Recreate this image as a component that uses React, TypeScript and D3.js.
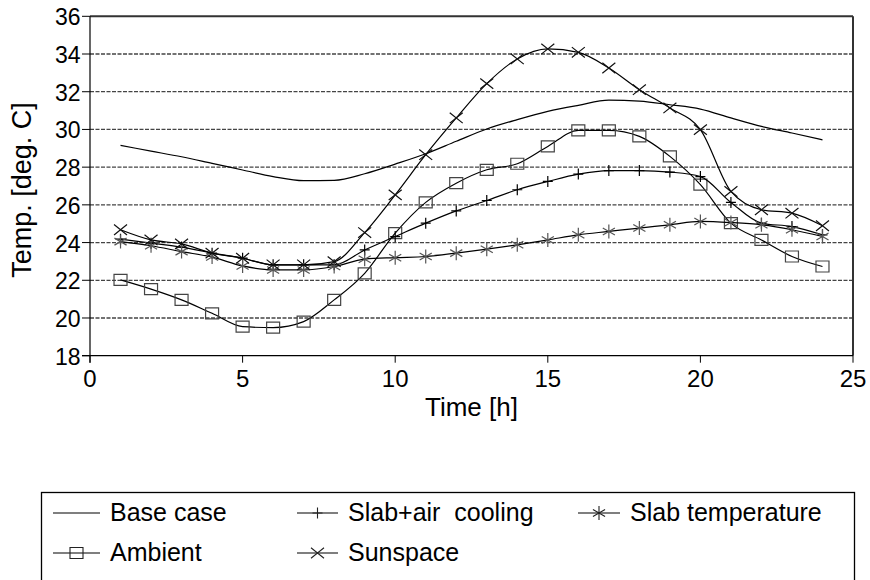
import React from 'react';
import * as d3 from 'd3';

const hours = [1, 2, 3, 4, 5, 6, 7, 8, 9, 10, 11, 12, 13, 14, 15, 16, 17, 18, 19, 20, 21, 22, 23, 24];
const baseCase = [29.15, 28.85, 28.55, 28.2, 27.85, 27.5, 27.28, 27.3, 27.65, 28.16, 28.71, 29.37, 30.02, 30.52, 30.96, 31.28, 31.55, 31.5, 31.31, 31.08, 30.61, 30.16, 29.81, 29.45];
const ambient = [22.02, 21.53, 20.96, 20.25, 19.54, 19.49, 19.81, 20.96, 22.37, 24.5, 26.13, 27.15, 27.86, 28.18, 29.1, 29.95, 29.95, 29.63, 28.57, 27.07, 25.03, 24.14, 23.26, 22.73];
const slabAir = [24.18, 23.97, 23.76, 23.44, 23.17, 22.82, 22.82, 22.82, 23.61, 24.32, 25.03, 25.68, 26.23, 26.8, 27.24, 27.63, 27.82, 27.82, 27.74, 27.5, 26.13, 25.03, 24.85, 24.41];
const slabTemp = [24.05, 23.83, 23.52, 23.23, 22.76, 22.55, 22.55, 22.73, 23.12, 23.2, 23.26, 23.44, 23.65, 23.88, 24.14, 24.41, 24.59, 24.77, 24.94, 25.12, 25.06, 24.94, 24.68, 24.32];
const sunspace = [24.68, 24.14, 23.93, 23.44, 23.17, 22.82, 22.82, 22.99, 24.53, 26.53, 28.66, 30.61, 32.43, 33.74, 34.27, 34.09, 33.26, 32.11, 31.14, 29.99, 26.71, 25.74, 25.56, 24.89];

const xTicks = [0, 5, 10, 15, 20, 25];
const yTicks = [18, 20, 22, 24, 26, 28, 30, 32, 34, 36];
const gridTicks = [20, 22, 24, 26, 28, 30, 32, 34];

const seriesNames = ['Base case', 'Slab+air  cooling', 'Slab temperature', 'Ambient', 'Sunspace'];

const W = 870;
const H = 580;
const PL = 90, PR = 853, PT = 16.3, PB = 355.7;

const FONT = '"Liberation Sans", Arial, Helvetica, sans-serif';

type MarkerKind = 'none' | 'square' | 'plus' | 'asterisk' | 'x';

function markerPath(kind: MarkerKind, cx: number, cy: number): string {
  const p = d3.path();
  if (kind === 'square') {
    p.rect(cx - 6.5, cy - 5.5, 13, 11);
  } else if (kind === 'plus') {
    p.moveTo(cx, cy - 5.5); p.lineTo(cx, cy + 5.5);
    p.moveTo(cx - 5, cy); p.lineTo(cx + 5, cy);
  } else if (kind === 'x') {
    const r = 6.5;
    p.moveTo(cx - r, cy - r * 0.8); p.lineTo(cx + r, cy + r * 0.8);
    p.moveTo(cx - r, cy + r * 0.8); p.lineTo(cx + r, cy - r * 0.8);
  } else if (kind === 'asterisk') {
    const r = 7;
    p.moveTo(cx, cy - r); p.lineTo(cx, cy + r);
    const dx = r * Math.cos(Math.PI / 6), dy = r * Math.sin(Math.PI / 6);
    p.moveTo(cx - dx, cy - dy); p.lineTo(cx + dx, cy + dy);
    p.moveTo(cx - dx, cy + dy); p.lineTo(cx + dx, cy - dy);
  }
  return p.toString();
}

export default function App() {
  const x = d3.scaleLinear().domain([0, 25]).range([PL, PR]);
  const y = d3.scaleLinear().domain([18, 36]).range([PB, PT]);

  const line = d3.line<number>()
    .x((_, i) => x(hours[i]))
    .y((d) => y(d))
    .curve(d3.curveMonotoneX);

  const series: { name: string; values: number[]; marker: MarkerKind; mcolor: string }[] = [
    { name: seriesNames[0], values: baseCase, marker: 'none', mcolor: '#000' },
    { name: seriesNames[3], values: ambient, marker: 'square', mcolor: '#444' },
    { name: seriesNames[1], values: slabAir, marker: 'plus', mcolor: '#000' },
    { name: seriesNames[2], values: slabTemp, marker: 'asterisk', mcolor: '#555' },
    { name: seriesNames[4], values: sunspace, marker: 'x', mcolor: '#111' },
  ];

  const legendItems: { name: string; marker: MarkerKind; lx: number; ly: number; len: number }[] = [
    { name: seriesNames[0], marker: 'none', lx: 53, ly: 513, len: 47 },
    { name: seriesNames[1], marker: 'plus', lx: 297, ly: 513, len: 41 },
    { name: seriesNames[2], marker: 'asterisk', lx: 578, ly: 513, len: 42 },
    { name: seriesNames[3], marker: 'square', lx: 53, ly: 553, len: 47 },
    { name: seriesNames[4], marker: 'x', lx: 297, ly: 553, len: 41 },
  ];

  return (
    <svg width={W} height={H} style={{ position: 'absolute', left: 0, top: 0, background: '#fff' }} fontFamily={FONT}>
      <rect x={0} y={0} width={W} height={H} fill="#fff" />
      {/* grid */}
      {gridTicks.map((t) => (
        <line key={'g' + t} x1={PL} x2={PR} y1={y(t)} y2={y(t)} stroke="#444" strokeWidth={1.3} strokeDasharray="4 1.5" />
      ))}
      {/* frame */}
      <line x1={PL} x2={PR} y1={PT} y2={PT} stroke="#333" strokeWidth={2} />
      <line x1={PR} x2={PR} y1={PT} y2={PB} stroke="#333" strokeWidth={2} />
      <line x1={PL} x2={PL} y1={PT} y2={PB + 7} stroke="#000" strokeWidth={1.2} />
      <line x1={PL - 8} x2={PR} y1={PB} y2={PB} stroke="#000" strokeWidth={1.2} />
      {/* y ticks */}
      {yTicks.map((t) => (
        <g key={'y' + t}>
          <line x1={PL - 8} x2={PL} y1={y(t)} y2={y(t)} stroke="#000" strokeWidth={1} />
          <text x={80.5} y={y(t) + 9} textAnchor="end" fontSize={23} fill="#000">{t}</text>
        </g>
      ))}
      {/* x ticks */}
      {xTicks.map((t) => (
        <g key={'x' + t}>
          <line x1={x(t)} x2={x(t)} y1={PB} y2={PB + 7} stroke="#000" strokeWidth={1} />
          <text x={x(t)} y={387} textAnchor="middle" fontSize={24} fill="#000">{t}</text>
        </g>
      ))}
      <text x={(PL + PR) / 2} y={416} textAnchor="middle" fontSize={26} fill="#000">Time [h]</text>
      <text transform={`translate(31,190) rotate(-90)`} textAnchor="middle" fontSize={27} fill="#000">Temp. [deg. C]</text>

      {/* series */}
      {series.map((s) => (
        <g key={s.name}>
          <path d={line(s.values) || ''} fill="none" stroke="#000" strokeWidth={1.2} />
          {s.marker !== 'none' && s.values.map((v, i) => (
            <path key={i} d={markerPath(s.marker, x(hours[i]), y(v))} fill="none" stroke={s.mcolor} strokeWidth={1.2} />
          ))}
        </g>
      ))}

      {/* legend */}
      <rect x={41.5} y={492.5} width={813} height={120} fill="none" stroke="#000" strokeWidth={1.3} />
      {legendItems.map((it) => (
        <g key={'l' + it.name}>
          <line x1={it.lx} x2={it.lx + it.len} y1={it.ly} y2={it.ly} stroke="#000" strokeWidth={1.2} />
          {it.marker !== 'none' && (
            <path d={markerPath(it.marker, it.lx + it.len / 2, it.ly)} fill="none" stroke="#222" strokeWidth={1.1} />
          )}
          <text x={it.lx + it.len + 10} y={it.ly + 8} fontSize={25} fill="#000" style={{ whiteSpace: 'pre' }}>{it.name}</text>
        </g>
      ))}
    </svg>
  );
}
